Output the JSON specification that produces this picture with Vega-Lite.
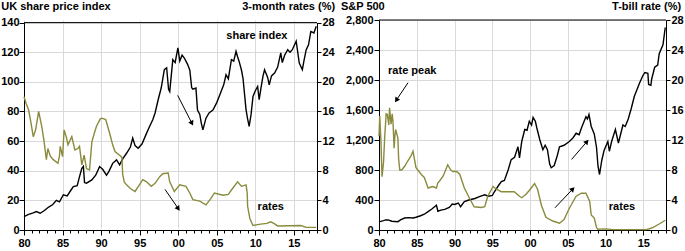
{
  "$schema": "https://vega.github.io/schema/vega-lite/v6.json",
  "padding": {"left": 0, "top": 0, "right": 0, "bottom": 0},
  "config": {
    "font": "Liberation Sans",
    "view": {"stroke": null},
    "axis": {"labelFont": "Liberation Sans", "labelFontSize": 11, "labelFontWeight": "bold", "labelColor": "#000", "titleFont": "Liberation Sans", "titleFontSize": 11, "titleFontWeight": "bold", "titleColor": "#000", "domainColor": "#000", "tickColor": "#000", "gridColor": "#d9d9d9", "labelFlush": false, "labelOverlap": false}
  },
  "datasets": {
    "ukIdx": [
      {"t":1980.0,"v":9},{"t":1980.6,"v":10.5},{"t":1981.2,"v":11.5},{"t":1981.6,"v":12.4},{"t":1982.1,"v":11.3},{"t":1982.6,"v":13},{"t":1983.2,"v":15.5},{"t":1983.7,"v":17},{"t":1984.2,"v":20},{"t":1984.6,"v":19},{"t":1985.1,"v":23.7},{"t":1985.6,"v":23},{"t":1986.1,"v":27},{"t":1986.4,"v":29.3},{"t":1986.9,"v":30},{"t":1987.2,"v":36},{"t":1987.5,"v":41.7},{"t":1987.7,"v":43},{"t":1987.85,"v":32},{"t":1988.1,"v":31.6},{"t":1988.8,"v":33.8},{"t":1989.3,"v":37},{"t":1989.8,"v":42.8},{"t":1990.2,"v":41},{"t":1990.7,"v":37},{"t":1991.0,"v":39.4},{"t":1991.5,"v":45},{"t":1992.0,"v":47.3},{"t":1992.4,"v":44},{"t":1992.8,"v":48},{"t":1993.3,"v":51.8},{"t":1993.8,"v":56},{"t":1994.1,"v":62},{"t":1994.4,"v":57},{"t":1994.8,"v":55.2},{"t":1995.3,"v":58},{"t":1995.9,"v":65.4},{"t":1996.3,"v":70},{"t":1996.7,"v":74.4},{"t":1997.0,"v":79},{"t":1997.4,"v":87.9},{"t":1997.8,"v":96},{"t":1998.2,"v":108.2},{"t":1998.5,"v":109.5},{"t":1998.75,"v":95},{"t":1998.9,"v":93.5},{"t":1999.3,"v":115},{"t":1999.6,"v":113},{"t":1999.96,"v":122.9},{"t":2000.2,"v":114},{"t":2000.5,"v":118},{"t":2000.8,"v":116},{"t":2001.2,"v":112},{"t":2001.5,"v":108},{"t":2001.75,"v":96},{"t":2001.9,"v":95},{"t":2002.3,"v":95.8},{"t":2002.5,"v":81},{"t":2002.8,"v":78},{"t":2003.0,"v":72},{"t":2003.2,"v":67.6},{"t":2003.6,"v":75.5},{"t":2004.0,"v":79},{"t":2004.5,"v":81},{"t":2005.0,"v":86},{"t":2005.4,"v":91.3},{"t":2005.9,"v":98},{"t":2006.2,"v":104.8},{"t":2006.5,"v":102},{"t":2006.9,"v":115},{"t":2007.2,"v":114},{"t":2007.5,"v":120.6},{"t":2007.7,"v":117},{"t":2007.9,"v":113.8},{"t":2008.2,"v":108},{"t":2008.4,"v":102.6},{"t":2008.8,"v":81.1},{"t":2009.0,"v":75},{"t":2009.2,"v":69.9},{"t":2009.45,"v":78},{"t":2009.7,"v":90.2},{"t":2010.0,"v":94},{"t":2010.3,"v":96.9},{"t":2010.5,"v":88},{"t":2010.7,"v":94.7},{"t":2011.0,"v":104},{"t":2011.2,"v":108.2},{"t":2011.6,"v":103},{"t":2011.8,"v":98},{"t":2012.1,"v":104},{"t":2012.5,"v":106},{"t":2012.9,"v":110},{"t":2013.3,"v":119.5},{"t":2013.5,"v":113},{"t":2013.8,"v":118},{"t":2014.2,"v":121.7},{"t":2014.5,"v":120},{"t":2014.8,"v":121.7},{"t":2015.0,"v":124},{"t":2015.3,"v":127.4},{"t":2015.7,"v":112.7},{"t":2016.1,"v":108.2},{"t":2016.3,"v":114},{"t":2016.6,"v":121.7},{"t":2016.9,"v":125},{"t":2017.2,"v":134},{"t":2017.6,"v":133},{"t":2017.9,"v":137.5}
    ],
    "ukRate": [
      {"t":1980.0,"r":18},{"t":1980.3,"r":17},{"t":1980.6,"r":16.2},{"t":1980.9,"r":14.5},{"t":1981.2,"r":12.6},{"t":1981.5,"r":13.5},{"t":1981.9,"r":16},{"t":1982.1,"r":15},{"t":1982.3,"r":14},{"t":1982.6,"r":12},{"t":1982.9,"r":9.5},{"t":1983.1,"r":11},{"t":1983.4,"r":10},{"t":1983.8,"r":9.5},{"t":1984.4,"r":9},{"t":1984.6,"r":10},{"t":1984.7,"r":11.3},{"t":1985.0,"r":9.9},{"t":1985.2,"r":13.5},{"t":1985.5,"r":12.5},{"t":1985.7,"r":11.5},{"t":1986.2,"r":12.6},{"t":1986.6,"r":10.8},{"t":1987.0,"r":11},{"t":1987.2,"r":11.3},{"t":1987.5,"r":8.8},{"t":1987.8,"r":10.1},{"t":1988.1,"r":8.3},{"t":1988.5,"r":8.1},{"t":1988.8,"r":11.9},{"t":1989.1,"r":13},{"t":1989.4,"r":14},{"t":1989.9,"r":15},{"t":1990.1,"r":15.1},{"t":1990.6,"r":14.9},{"t":1991.1,"r":13.1},{"t":1991.5,"r":11.5},{"t":1991.8,"r":10.6},{"t":1992.4,"r":10.1},{"t":1992.7,"r":9.8},{"t":1992.8,"r":7.5},{"t":1993.0,"r":6.5},{"t":1993.3,"r":6.1},{"t":1993.8,"r":5.6},{"t":1994.4,"r":5.2},{"t":1994.9,"r":6},{"t":1995.4,"r":6.8},{"t":1995.9,"r":6.5},{"t":1996.5,"r":5.9},{"t":1997.0,"r":6.3},{"t":1997.6,"r":7.2},{"t":1998.0,"r":7.6},{"t":1998.7,"r":7.7},{"t":1998.9,"r":6.5},{"t":1999.5,"r":5.2},{"t":2000.2,"r":6.1},{"t":2001.0,"r":5.9},{"t":2001.5,"r":5},{"t":2001.9,"r":4.1},{"t":2002.8,"r":3.9},{"t":2003.6,"r":3.4},{"t":2004.2,"r":4.2},{"t":2004.7,"r":5.0},{"t":2005.8,"r":4.7},{"t":2006.5,"r":4.8},{"t":2006.9,"r":5.4},{"t":2007.7,"r":6.5},{"t":2008.2,"r":5.9},{"t":2008.8,"r":6.1},{"t":2008.95,"r":5},{"t":2009.0,"r":3.2},{"t":2009.3,"r":1.5},{"t":2009.7,"r":0.6},{"t":2010.7,"r":0.8},{"t":2011.5,"r":0.9},{"t":2012.0,"r":1.1},{"t":2012.4,"r":0.9},{"t":2012.9,"r":0.55},{"t":2015.9,"r":0.6},{"t":2016.6,"r":0.35},{"t":2017.9,"r":0.35}
    ],
    "usIdx": [
      {"t":1980.0,"v":108},{"t":1980.6,"v":125},{"t":1980.9,"v":135},{"t":1981.2,"v":134},{"t":1981.7,"v":117},{"t":1982.5,"v":111},{"t":1982.9,"v":138},{"t":1983.4,"v":160},{"t":1983.9,"v":165},{"t":1984.5,"v":160},{"t":1984.9,"v":170},{"t":1985.5,"v":190},{"t":1986.0,"v":210},{"t":1986.5,"v":245},{"t":1987.0,"v":280},{"t":1987.6,"v":330},{"t":1987.8,"v":250},{"t":1988.2,"v":265},{"t":1988.7,"v":275},{"t":1989.3,"v":300},{"t":1989.7,"v":345},{"t":1990.0,"v":340},{"t":1990.5,"v":360},{"t":1990.8,"v":310},{"t":1991.3,"v":379},{"t":1991.9,"v":400},{"t":1992.7,"v":420},{"t":1993.3,"v":445},{"t":1994.0,"v":470},{"t":1994.5,"v":450},{"t":1995.0,"v":460},{"t":1995.3,"v":513},{"t":1995.8,"v":590},{"t":1996.2,"v":647},{"t":1996.6,"v":660},{"t":1997.1,"v":800},{"t":1997.5,"v":938},{"t":1997.95,"v":970},{"t":1998.4,"v":1110},{"t":1998.6,"v":960},{"t":1998.9,"v":1180},{"t":1999.3,"v":1340},{"t":1999.6,"v":1330},{"t":1999.9,"v":1450},{"t":2000.2,"v":1400},{"t":2000.4,"v":1500},{"t":2000.7,"v":1450},{"t":2000.9,"v":1360},{"t":2001.3,"v":1200},{"t":2001.7,"v":1070},{"t":2002.0,"v":1130},{"t":2002.3,"v":1070},{"t":2002.6,"v":880},{"t":2002.8,"v":830},{"t":2003.2,"v":860},{"t":2003.6,"v":990},{"t":2003.9,"v":1110},{"t":2004.5,"v":1130},{"t":2005.2,"v":1180},{"t":2005.7,"v":1230},{"t":2006.1,"v":1290},{"t":2006.5,"v":1270},{"t":2006.8,"v":1360},{"t":2007.4,"v":1510},{"t":2007.6,"v":1480},{"t":2007.8,"v":1540},{"t":2008.1,"v":1380},{"t":2008.5,"v":1280},{"t":2008.8,"v":1100},{"t":2009.0,"v":850},{"t":2009.2,"v":740},{"t":2009.5,"v":930},{"t":2009.8,"v":1060},{"t":2010.3,"v":1180},{"t":2010.5,"v":1050},{"t":2010.8,"v":1180},{"t":2011.3,"v":1340},{"t":2011.7,"v":1160},{"t":2012.0,"v":1280},{"t":2012.3,"v":1400},{"t":2012.6,"v":1380},{"t":2013.0,"v":1480},{"t":2013.4,"v":1620},{"t":2013.8,"v":1780},{"t":2014.5,"v":1960},{"t":2014.9,"v":2050},{"t":2015.2,"v":2100},{"t":2015.6,"v":2090},{"t":2015.7,"v":1940},{"t":2016.0,"v":1930},{"t":2016.1,"v":2010},{"t":2016.5,"v":2170},{"t":2016.9,"v":2200},{"t":2017.1,"v":2350},{"t":2017.6,"v":2470},{"t":2017.9,"v":2700}
    ],
    "usRate": [
      {"t":1980.0,"r":12.5},{"t":1980.1,"r":15.2},{"t":1980.25,"r":12},{"t":1980.4,"r":7.1},{"t":1980.6,"r":9},{"t":1980.75,"r":12.3},{"t":1980.95,"r":15.5},{"t":1981.1,"r":15.4},{"t":1981.3,"r":14},{"t":1981.4,"r":16.3},{"t":1981.6,"r":14.1},{"t":1981.75,"r":15.5},{"t":1981.85,"r":14.5},{"t":1982.0,"r":10.9},{"t":1982.1,"r":12.5},{"t":1982.2,"r":13.4},{"t":1982.5,"r":12.3},{"t":1982.6,"r":9.5},{"t":1982.75,"r":8},{"t":1983.0,"r":8},{"t":1983.4,"r":8.5},{"t":1983.8,"r":9.2},{"t":1984.2,"r":9.8},{"t":1984.5,"r":10.5},{"t":1984.9,"r":8.3},{"t":1985.3,"r":7.8},{"t":1985.6,"r":7.4},{"t":1986.0,"r":7},{"t":1986.5,"r":5.6},{"t":1987.1,"r":5.8},{"t":1987.6,"r":5.6},{"t":1987.8,"r":6.3},{"t":1988.0,"r":6.5},{"t":1988.5,"r":7.2},{"t":1989.1,"r":8.7},{"t":1989.5,"r":8},{"t":1989.8,"r":7.8},{"t":1990.3,"r":7.8},{"t":1990.7,"r":7.4},{"t":1991.3,"r":5.6},{"t":1992.0,"r":4.2},{"t":1992.6,"r":3.1},{"t":1993.5,"r":3.0},{"t":1994.0,"r":3.1},{"t":1994.4,"r":4.5},{"t":1995.1,"r":5.8},{"t":1995.6,"r":5.4},{"t":1996.2,"r":5.1},{"t":1997.0,"r":5.1},{"t":1997.9,"r":5.1},{"t":1998.6,"r":4.5},{"t":1998.9,"r":4.3},{"t":1999.5,"r":4.8},{"t":2000.0,"r":5.4},{"t":2000.6,"r":6.2},{"t":2001.0,"r":5.4},{"t":2001.5,"r":3.3},{"t":2002.1,"r":1.7},{"t":2003.0,"r":1.2},{"t":2003.9,"r":0.9},{"t":2004.5,"r":1.4},{"t":2005.2,"r":2.9},{"t":2006.1,"r":4.5},{"t":2006.8,"r":4.9},{"t":2007.4,"r":4.9},{"t":2007.9,"r":3.8},{"t":2008.1,"r":2.0},{"t":2008.3,"r":1.8},{"t":2008.5,"r":1.6},{"t":2008.8,"r":0.3},{"t":2009.0,"r":0.1},{"t":2010.0,"r":0.15},{"t":2011.0,"r":0.05},{"t":2015.4,"r":0.05},{"t":2015.9,"r":0.2},{"t":2016.3,"r":0.35},{"t":2017.1,"r":0.8},{"t":2017.9,"r":1.3}
    ]
  },
  "bounds": "flush",
  "spacing": 62,
  "hconcat": [
    {
      "width": 293,
      "height": 210,
      "layer": [
        {
          "encoding": {
            "x": {"field": "t", "type": "quantitative", "scale": {"domain": [1980, 2018], "nice": false, "zero": false},
              "axis": {"values": [1980, 1985, 1990, 1995, 2000, 2005, 2010, 2015], "labelExpr": "slice(toString(datum.value), 2)", "grid": true, "tickSize": 5, "labelPadding": 2, "title": null}},
            "y": {"field": "v", "type": "quantitative", "scale": {"domain": [0, 140], "range": [210, 2.6], "nice": false},
              "axis": {"values": [0, 20, 40, 60, 80, 100, 120, 140], "grid": true, "tickSize": 5, "labelPadding": 0, "title": "UK share price index", "titleAngle": 0, "titleAlign": "left", "titleBaseline": "alphabetic", "titleX": -23.3, "titleY": -10.4}}
          },
          "layer": [
            {
              "data": {"name": "ukIdx"},
              "mark": {"type": "line", "color": "#000", "strokeWidth": 1.4}
            },
            {
              "data": {"values": [{"t": 1999.93, "v": 90.9, "t2": 2001.78, "v2": 72}, {"t": 1998.29, "v": 27.4, "t2": 2000.01, "v2": 14.4}]},
              "mark": {"type": "rule", "color": "#000", "strokeWidth": 1},
              "encoding": {"x2": {"field": "t2"}, "y2": {"field": "v2"}}
            },
            {
              "data": {"values": [{"t": 2001.78, "v": 72}]},
              "mark": {"type": "point", "shape": "triangle-up", "filled": true, "color": "#000", "opacity": 1, "size": 32, "angle": 153}
            },
            {
              "data": {"values": [{"t": 2000.01, "v": 14.4}]},
              "mark": {"type": "point", "shape": "triangle-up", "filled": true, "color": "#000", "opacity": 1, "size": 32, "angle": 145}
            },
            {
              "data": {"values": [{"t": 2010.2, "v": 130.7, "label": "share index"}, {"t": 2012.0, "v": 15.4, "label": "rates"}]},
              "mark": {"type": "text", "fontSize": 11, "fontWeight": "bold", "color": "#000"},
              "encoding": {"text": {"field": "label"}}
            },
            {
              "data": {"values": [{"t": 1980, "t2": 2018, "v": 140}]},
              "mark": {"type": "rule", "color": "#000", "strokeWidth": 1},
              "encoding": {"x2": {"field": "t2"}}
            }
          ]
        },
        {
          "data": {"name": "ukRate"},
          "mark": {"type": "line", "color": "#8a8b3d", "strokeWidth": 1.4},
          "encoding": {
            "x": {"field": "t", "type": "quantitative",
              "axis": {"orient": "bottom", "values": [1980,1981,1982,1983,1984,1985,1986,1987,1988,1989,1990,1991,1992,1993,1994,1995,1996,1997,1998,1999,2000,2001,2002,2003,2004,2005,2006,2007,2008,2009,2010,2011,2012,2013,2014,2015,2016,2017,2018], "labels": false, "domain": false, "grid": false, "tickSize": 3, "title": null}},
            "y": {"field": "r", "type": "quantitative", "scale": {"domain": [0, 28], "range": [210, 2.6], "nice": false},
              "axis": {"orient": "right", "values": [0, 4, 8, 12, 16, 20, 24, 28], "grid": false, "tickSize": 4, "labelPadding": 1, "title": "3-month rates (%)", "titleAngle": 0, "titleAlign": "right", "titleBaseline": "alphabetic", "titleX": 17.6, "titleY": -10.4}}
          }
        }
      ],
      "resolve": {"scale": {"y": "independent"}, "axis": {"y": "independent", "x": "independent"}}
    },
    {
      "width": 287,
      "height": 210,
      "layer": [
        {
          "encoding": {
            "x": {"field": "t", "type": "quantitative", "scale": {"domain": [1980, 2018], "nice": false, "zero": false},
              "axis": {"values": [1980, 1985, 1990, 1995, 2000, 2005, 2010, 2015], "labelExpr": "slice(toString(datum.value), 2)", "grid": true, "tickSize": 5, "labelPadding": 2, "title": null}},
            "y": {"field": "v", "type": "quantitative", "scale": {"domain": [0, 2800], "nice": false},
              "axis": {"values": [0, 400, 800, 1200, 1600, 2000, 2400, 2800], "labelExpr": "format(datum.value, ',')", "grid": true, "tickSize": 5, "labelPadding": 1, "title": "S&P 500", "titleAngle": 0, "titleAlign": "left", "titleBaseline": "alphabetic", "titleX": -38.6, "titleY": -10.4}}
          },
          "layer": [
            {
              "data": {"name": "usIdx"},
              "mark": {"type": "line", "color": "#000", "strokeWidth": 1.4}
            },
            {
              "data": {"values": [{"t": 1983.85, "v": 1965, "t2": 1982.3, "v2": 1732}, {"t": 2005.5, "v": 941, "t2": 2007.53, "v2": 1178}, {"t": 2003.3, "v": 296, "t2": 2005.66, "v2": 547}]},
              "mark": {"type": "rule", "color": "#000", "strokeWidth": 1},
              "encoding": {"x2": {"field": "t2"}, "y2": {"field": "v2"}}
            },
            {
              "data": {"values": [{"t": 1982.3, "v": 1732}]},
              "mark": {"type": "point", "shape": "triangle-up", "filled": true, "color": "#000", "opacity": 1, "size": 32, "angle": 214}
            },
            {
              "data": {"values": [{"t": 2007.53, "v": 1178}]},
              "mark": {"type": "point", "shape": "triangle-up", "filled": true, "color": "#000", "opacity": 1, "size": 32, "angle": 41}
            },
            {
              "data": {"values": [{"t": 2005.66, "v": 547}]},
              "mark": {"type": "point", "shape": "triangle-up", "filled": true, "color": "#000", "opacity": 1, "size": 32, "angle": 44}
            },
            {
              "data": {"values": [{"t": 1984.4, "v": 2116, "label": "rate peak"}, {"t": 2012.17, "v": 304, "label": "rates"}]},
              "mark": {"type": "text", "fontSize": 11, "fontWeight": "bold", "color": "#000"},
              "encoding": {"text": {"field": "label"}}
            },
            {
              "data": {"values": [{"t": 1980, "t2": 2018, "v": 2800}]},
              "mark": {"type": "rule", "color": "#000", "strokeWidth": 1},
              "encoding": {"x2": {"field": "t2"}}
            }
          ]
        },
        {
          "data": {"name": "usRate"},
          "mark": {"type": "line", "color": "#8a8b3d", "strokeWidth": 1.4},
          "encoding": {
            "x": {"field": "t", "type": "quantitative",
              "axis": {"orient": "bottom", "values": [1980,1981,1982,1983,1984,1985,1986,1987,1988,1989,1990,1991,1992,1993,1994,1995,1996,1997,1998,1999,2000,2001,2002,2003,2004,2005,2006,2007,2008,2009,2010,2011,2012,2013,2014,2015,2016,2017,2018], "labels": false, "domain": false, "grid": false, "tickSize": 3, "title": null}},
            "y": {"field": "r", "type": "quantitative", "scale": {"domain": [0, 28], "nice": false},
              "axis": {"orient": "right", "values": [0, 4, 8, 12, 16, 20, 24, 28], "grid": false, "tickSize": 4, "labelPadding": 1, "title": "T-bill rate (%)", "titleAngle": 0, "titleAlign": "right", "titleBaseline": "alphabetic", "titleX": 14.6, "titleY": -10.4}}
          }
        }
      ],
      "resolve": {"scale": {"y": "independent"}, "axis": {"y": "independent", "x": "independent"}}
    }
  ]
}
